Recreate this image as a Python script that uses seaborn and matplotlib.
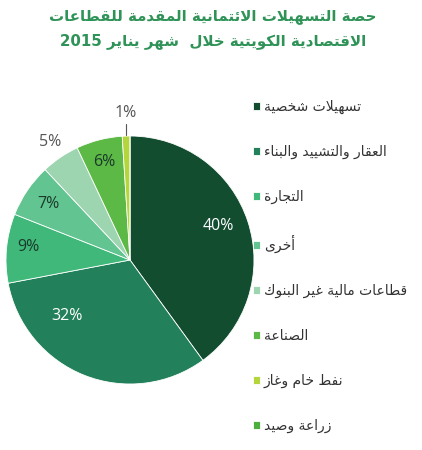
import matplotlib
matplotlib.use("Agg")
import matplotlib.pyplot as plt
import seaborn as sns
import numpy as np

# Data
sectors = ["تسهيلات شخصية", "العقار والتشييد والبناء", "التجارة", "أخرى",
           "قطاعات مالية غير البنوك", "الصناعة", "نفط خام وغاز", "زراعة وصيد"]
shares = [40, 32, 9, 7, 5, 6, 1, 0]
colors = ["#124d30", "#22805a", "#3fb87a", "#62c490", "#9dd5b0", "#5cb946", "#b4d63c", "#4cae3c"]
title_lines = ["حصة التسهيلات الائتمانية المقدمة للقطاعات",
               "الاقتصادية الكويتية خلال  شهر يناير 2015"]

# --- minimal Arabic shaping (matplotlib has no bidi / joining support) ---
_counts = [1, 2, 2, 2, 2, 4, 2, 4, 2, 4, 4, 4, 4, 4, 2, 2, 2, 2, 4, 4, 4, 4, 4, 4, 4, 4]
_letters = [chr(c) for c in range(0x0621, 0x063B)]
_counts += [4, 4, 4, 4, 4, 4, 4, 2, 2, 4]
_letters += [chr(c) for c in range(0x0641, 0x064B)]
FORMS = {}
code = 0xFE80
for ch, n in zip(_letters, _counts):
    FORMS[ch] = (code, n)
    code += n
LAM_ALEF = {"آ": 0xFEF5, "أ": 0xFEF7, "إ": 0xFEF9, "ا": 0xFEFB}


def shape_word(word):
    chars = list(word)
    units = []
    i = 0
    while i < len(chars):
        if chars[i] == "ل" and i + 1 < len(chars) and chars[i + 1] in LAM_ALEF:
            units.append(("LA", chars[i + 1]))
            i += 2
        else:
            units.append(("C", chars[i]))
            i += 1
    out = []
    for k, (kind, ch) in enumerate(units):
        prev = units[k - 1] if k > 0 else None
        nxt = units[k + 1] if k + 1 < len(units) else None
        join_prev = prev is not None and prev[0] == "C" and FORMS.get(prev[1], (0, 0))[1] == 4
        if kind == "LA":
            out.append(chr(LAM_ALEF[ch] + (1 if join_prev else 0)))
            continue
        if ch not in FORMS:
            out.append(ch)
            continue
        base, n = FORMS[ch]
        join_next = n == 4 and nxt is not None and (nxt[0] == "LA" or FORMS.get(nxt[1], (0, 1))[1] >= 2)
        if n == 1:
            form = 0
        elif join_prev and join_next:
            form = 3
        elif join_next:
            form = 2
        elif join_prev:
            form = 1
        else:
            form = 0
        out.append(chr(base + form))
    return "".join(reversed(out))


def ar(text):
    tokens = text.split(" ")
    shaped = [t if t.isdigit() else shape_word(t) for t in tokens]
    return " ".join(reversed(shaped))


sns.set_style("white")
plt.rcParams["font.family"] = ["DejaVu Sans"]

fig = plt.figure(figsize=(4.22, 4.5), dpi=100)
ax = fig.add_axes([6 / 422, 66 / 450, 248 / 422, 248 / 450])

wedges, _ = ax.pie(shares, colors=colors, startangle=90, counterclock=False,
                   wedgeprops=dict(edgecolor="white", linewidth=0.6))
ax.set_xlim(-1, 1)
ax.set_ylim(-1, 1)
ax.set_aspect("equal")
ax.set_axis_off()

# percentage labels
label_r = [0.76, 0.68, 0.83, 0.80, 1.15, 0.82, 1.19, None]
label_shift = [-3, 27, 2, 0, 0, 0, 0, 0]
label_col = ["white", "white", "#1a3a2a", "#1a3a2a", "#555555", "#1a3a2a", "#555555", None]
for w, v, r, s, c in zip(wedges, shares, label_r, label_shift, label_col):
    if r is None:
        continue
    th = np.deg2rad((w.theta1 + w.theta2) / 2 - s)
    x, y = r * np.cos(th), r * np.sin(th)
    ax.text(x, y, f"{v}%", ha="center", va="center", color=c,
            fontsize=11.5, family="Open Sans", clip_on=False)
    if v == 1:
        th2 = np.deg2rad((w.theta1 + w.theta2) / 2)
        ax.plot([np.cos(th2), np.cos(th2)], [1.01, 1.10],
                color="#555555", lw=0.8, clip_on=False)

# title
fig.text(0.505, 1 - 17 / 450, ar(title_lines[0]), ha="center", va="center",
         fontsize=10.8, fontweight="bold", color="#2f9358")
fig.text(0.505, 1 - 41 / 450, ar(title_lines[1]), ha="center", va="center",
         fontsize=10.8, fontweight="bold", color="#2f9358")

leg = fig.legend(wedges, [ar(s) for s in sectors], loc="upper left",
                 bbox_to_anchor=(246 / 422, 1 - 93 / 450), frameon=False,
                 fontsize=10, labelspacing=2.22, handlelength=0.5,
                 handleheight=0.5, handletextpad=0.3, borderpad=0)
for t in leg.get_texts():
    t.set_color("#333333")

fig.savefig("out.png", dpi=100)
